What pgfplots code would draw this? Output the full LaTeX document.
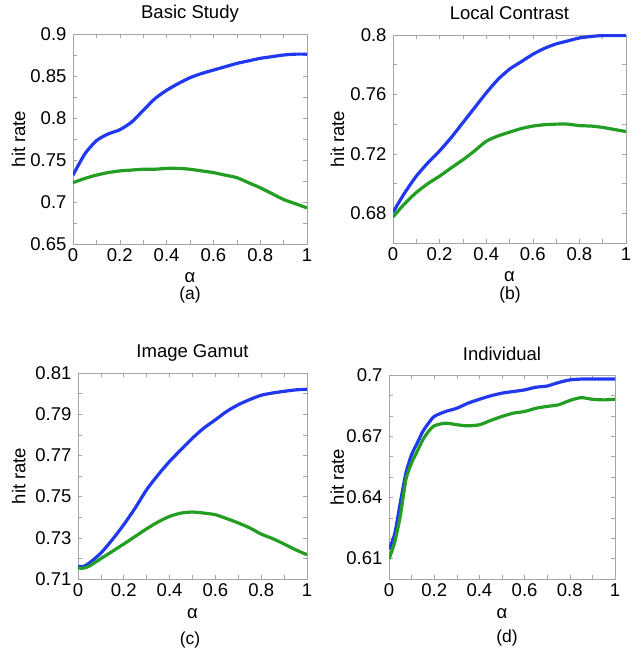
\documentclass[border=0pt]{standalone}
\usepackage{fontspec}
\setmainfont{Liberation Sans}
\usepackage{pgfplots}
\pgfplotsset{compat=1.18}
\definecolor{myblue}{RGB}{32,56,238}
\definecolor{mygreen}{RGB}{35,158,35}
\definecolor{axgray}{RGB}{165,165,165}
\newcommand\fs{\fontsize{18.5}{22}\selectfont}
\newcommand\fc{\fontsize{17.5}{21}\selectfont}
\pgfplotsset{
  myax/.style={
    scale only axis,
    xmin=0, xmax=1,
    xtick={0,0.2,0.4,0.6,0.8,1},
    minor x tick num=1,
    axis line style={axgray, line width=0.8pt},
    tick style={axgray, line width=0.6pt},
    major tick length=4pt, minor tick length=4pt,
    tick align=inside,
    ticklabel style={font=\fs},
    xticklabel style={yshift=-1pt},
    yticklabel style={xshift=-3pt},
    /pgf/number format/assume math mode=true,
    /pgf/number format/fixed,
    /pgf/number format/precision=2,
    xlabel={α},
    xlabel style={font=\fs, at={(axis description cs:0.5,0)}, anchor=base, yshift=-39pt},
    ylabel={hit rate},
    ylabel style={font=\fs, anchor=base, rotate=0},
    title style={font=\fs, at={(axis description cs:0.5,1)}, anchor=base, yshift=9pt},
    every axis plot/.append style={line width=3.2pt, line join=round, no markers, smooth, tension=0.4},
  }
}
\begin{document}
\begin{tikzpicture}
\path[use as bounding box] (0,0) rectangle (636pt,649pt);
% (a)
\begin{axis}[myax, at={(73pt,405pt)}, anchor=south west, width=234pt, height=210pt,
  ymin=0.65, ymax=0.9, ytick={0.65,0.7,0.75,0.8,0.85,0.9}, minor y tick num=1,
  title={Basic Study}, ylabel style={at={(axis description cs:-0.205,0.5)}}]
\addplot[myblue] coordinates {(0,0.732)(0.05,0.757)(0.1,0.773)(0.15,0.781)(0.2,0.786)(0.25,0.795)(0.3,0.809)(0.35,0.823)(0.4,0.833)(0.45,0.841)(0.5,0.848)(0.55,0.853)(0.6,0.857)(0.65,0.861)(0.7,0.865)(0.75,0.868)(0.8,0.871)(0.85,0.873)(0.9,0.875)(0.95,0.876)(1,0.876)};
\addplot[mygreen] coordinates {(0,0.723)(0.05,0.728)(0.1,0.732)(0.15,0.735)(0.2,0.737)(0.25,0.738)(0.3,0.739)(0.35,0.739)(0.4,0.740)(0.45,0.740)(0.5,0.739)(0.55,0.737)(0.6,0.735)(0.65,0.732)(0.7,0.729)(0.75,0.723)(0.8,0.717)(0.85,0.710)(0.9,0.703)(0.95,0.698)(1,0.693)};
\end{axis}
% (b)
\begin{axis}[myax, at={(393pt,406pt)}, anchor=south west, width=233pt, height=208pt,
  ymin=0.66, ymax=0.8, ytick={0.68,0.72,0.76,0.8}, minor y tick num=1,
  title={Local Contrast}, ylabel style={at={(axis description cs:-0.21,0.5)}}]
\addplot[myblue] coordinates {(0,0.6807)(0.05,0.6937)(0.1,0.705)(0.15,0.714)(0.2,0.722)(0.25,0.731)(0.3,0.741)(0.35,0.751)(0.4,0.761)(0.45,0.770)(0.5,0.777)(0.55,0.782)(0.6,0.787)(0.65,0.791)(0.7,0.794)(0.75,0.796)(0.8,0.798)(0.85,0.799)(0.9,0.7996)(1,0.7996)};
\addplot[mygreen] coordinates {(0,0.6775)(0.05,0.6865)(0.1,0.694)(0.15,0.700)(0.2,0.705)(0.25,0.7106)(0.3,0.716)(0.35,0.722)(0.4,0.7285)(0.45,0.732)(0.5,0.7346)(0.55,0.737)(0.6,0.7387)(0.65,0.7396)(0.7,0.740)(0.75,0.740)(0.8,0.739)(0.85,0.7387)(0.9,0.7378)(0.95,0.7364)(1,0.735)};
\end{axis}
% (c)
\begin{axis}[myax, at={(78pt,70pt)}, anchor=south west, width=229pt, height=206pt,
  ymin=0.71, ymax=0.81, ytick={0.71,0.73,0.75,0.77,0.79,0.81}, minor y tick num=1,
  title={Image Gamut}, ylabel style={at={(axis description cs:-0.23,0.5)}}]
\addplot[myblue] coordinates {(0,0.7161)(0.025,0.7161)(0.05,0.7178)(0.1,0.7226)(0.15,0.7291)(0.2,0.7364)(0.25,0.7445)(0.3,0.7534)(0.35,0.7606)(0.4,0.7671)(0.45,0.7728)(0.5,0.7784)(0.55,0.7833)(0.6,0.7873)(0.65,0.7914)(0.7,0.7946)(0.75,0.7971)(0.8,0.7992)(0.85,0.8003)(0.9,0.8011)(0.95,0.8018)(1,0.8021)};
\addplot[mygreen] coordinates {(0,0.7153)(0.025,0.7153)(0.05,0.7163)(0.1,0.7199)(0.15,0.7234)(0.2,0.727)(0.25,0.7307)(0.3,0.7344)(0.35,0.7377)(0.4,0.7404)(0.45,0.742)(0.5,0.7425)(0.55,0.742)(0.6,0.7412)(0.65,0.7393)(0.7,0.7372)(0.75,0.7348)(0.8,0.7318)(0.85,0.7296)(0.9,0.727)(0.95,0.7242)(1,0.7218)};
\end{axis}
% (d)
\begin{axis}[myax, at={(389pt,70pt)}, anchor=south west, width=226pt, height=204pt,
  ymin=0.60, ymax=0.70, ytick={0.61,0.64,0.67,0.7}, minor y tick num=2,
  title={Individual}, ylabel style={at={(axis description cs:-0.2,0.5)}}]
\addplot[myblue] coordinates {(0,0.6146)(0.025,0.622)(0.05,0.6374)(0.075,0.652)(0.1,0.661)(0.125,0.6667)(0.15,0.6724)(0.175,0.6764)(0.2,0.6797)(0.25,0.6821)(0.3,0.6837)(0.35,0.6862)(0.4,0.6881)(0.45,0.6898)(0.5,0.6911)(0.55,0.6919)(0.6,0.6927)(0.65,0.694)(0.7,0.6946)(0.75,0.6963)(0.8,0.6976)(0.85,0.698)(0.9,0.698)(1,0.698)};
\addplot[mygreen] coordinates {(0,0.6098)(0.025,0.6179)(0.05,0.6309)(0.075,0.6488)(0.1,0.6569)(0.125,0.6626)(0.15,0.6683)(0.175,0.6724)(0.2,0.6751)(0.25,0.6764)(0.3,0.6756)(0.35,0.6751)(0.4,0.6756)(0.45,0.6777)(0.5,0.6797)(0.55,0.6813)(0.6,0.6821)(0.65,0.6837)(0.7,0.6846)(0.75,0.6854)(0.8,0.6875)(0.85,0.6889)(0.9,0.6881)(0.95,0.6878)(1,0.6881)};
\end{axis}
\node[font=\fc] at (190pt,354pt) {(a)};
\node[font=\fc] at (510pt,354pt) {(b)};
\node[font=\fc] at (190pt,9pt) {(c)};
\node[font=\fc] at (507pt,11pt) {(d)};
\end{tikzpicture}
\end{document}
